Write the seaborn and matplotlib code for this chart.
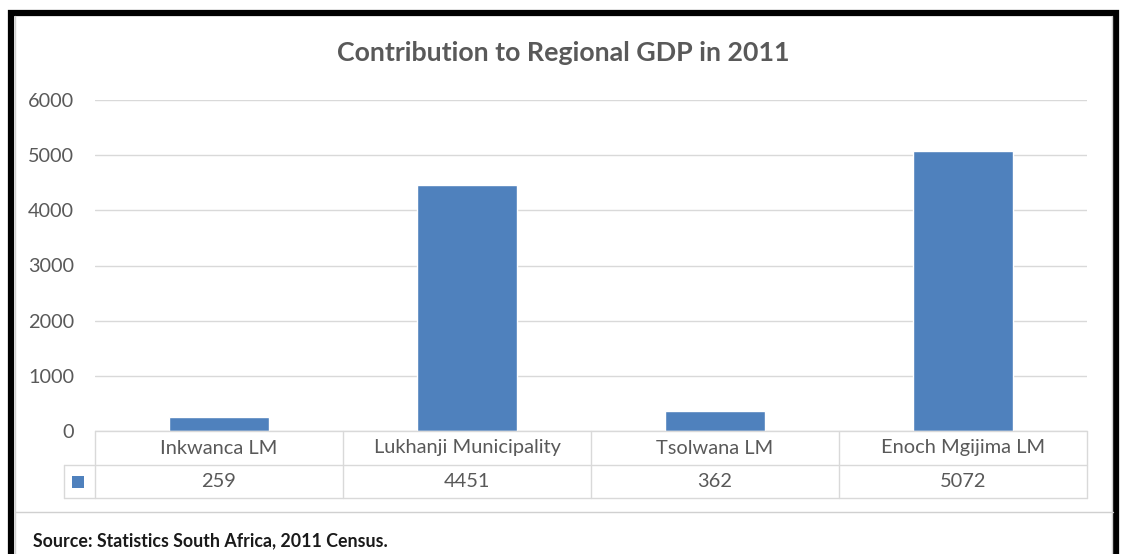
import matplotlib
matplotlib.use("Agg")
import matplotlib.pyplot as plt
import seaborn as sns
import pandas as pd
from matplotlib.patches import Rectangle
from matplotlib.lines import Line2D

categories = ["Inkwanca LM", "Lukhanji Municipality", "Tsolwana LM", "Enoch Mgijima LM"]
gdp_values = [259, 4451, 362, 5072]
y_ticks = [0, 1000, 2000, 3000, 4000, 5000, 6000]
title_text = "Contribution to Regional GDP in 2011"
source_text = "Source: Statistics South Africa, 2011 Census."

BAR = "#4F81BD"
GRID = "#D9D9D9"
TXT = "#595959"

sns.set_theme(style="white")
plt.rcParams["font.family"] = ["Lato", "DejaVu Sans"]

W, H = 1122, 554
fig = plt.figure(figsize=(W / 100, H / 100), dpi=100)
fig.patch.set_facecolor("white")


def fx(px):
    return px / W


def fy(py):
    return 1 - py / H


# plot area
x0, x1, ytop, ybot = 95, 1087, 100, 431
ax = fig.add_axes([fx(x0), fy(ybot), fx(x1) - fx(x0), fy(ytop) - fy(ybot)])
df = pd.DataFrame({"cat": categories, "val": gdp_values})
sns.barplot(data=df, x="cat", y="val", color=BAR, width=0.4, saturation=1, ax=ax)
ax.set_xlim(-0.5, len(categories) - 0.5)
ax.set_ylim(0, 6000)
ax.set_yticks(y_ticks)
ax.set_yticklabels([str(t) for t in y_ticks], color=TXT, fontsize=14.3)
ax.tick_params(axis="y", length=0, pad=15)
ax.set_xticks([])
ax.set_xlabel("")
ax.set_ylabel("")
ax.yaxis.grid(True, color=GRID, linewidth=1)
ax.set_axisbelow(True)
for s in ax.spines.values():
    s.set_visible(False)
ax.patch.set_alpha(0)

# data table under the plot
row1, row2, row3 = 431, 465, 498
keyx = 64
n = len(categories)
cw = (x1 - x0) / n


def hline(xa, xb, y, color=GRID, lw=1):
    fig.add_artist(Line2D([fx(xa), fx(xb)], [fy(y), fy(y)], color=color, lw=lw))


def vline(x, ya, yb, color=GRID, lw=1):
    fig.add_artist(Line2D([fx(x), fx(x)], [fy(ya), fy(yb)], color=color, lw=lw))


hline(x0, x1, row1)
hline(keyx, x1, row2)
hline(keyx, x1, row3)
vline(keyx, row2, row3)
for i in range(n + 1):
    vline(x0 + i * cw, row1, row3)
for i, (c, v) in enumerate(zip(categories, gdp_values)):
    cx = x0 + (i + 0.5) * cw
    fig.text(fx(cx), fy((row1 + row2) / 2), c, ha="center", va="center",
             color=TXT, fontsize=14.4)
    fig.text(fx(cx), fy((row2 + row3) / 2), str(v), ha="center", va="center",
             color=TXT, fontsize=14.4)
fig.add_artist(Rectangle((fx(72), fy(488)), fx(12), fy(476) - fy(488),
                         facecolor=BAR, edgecolor="none"))

# title
fig.text(fx(563), fy(53), title_text, ha="center", va="center",
         color=TXT, fontsize=19.3, fontweight="bold")

# separator above source note and inner frame
hline(15, 1113, 512, color="#D0D0D0")
vline(1112, 16, 554, color="#D0D0D0")
vline(15, 16, 554, color="#D0D0D0")
fig.text(fx(33), fy(541), source_text, ha="left", va="center",
         color="#1a1a1a", fontsize=12.8, fontweight="bold")

# heavy black outer frame
fig.add_artist(Rectangle((fx(11), fy(600)), fx(1116) - fx(11), fy(13) - fy(600),
                         facecolor="none", edgecolor="black", lw=4.5))

fig.savefig("out.png", dpi=100, facecolor="white")
